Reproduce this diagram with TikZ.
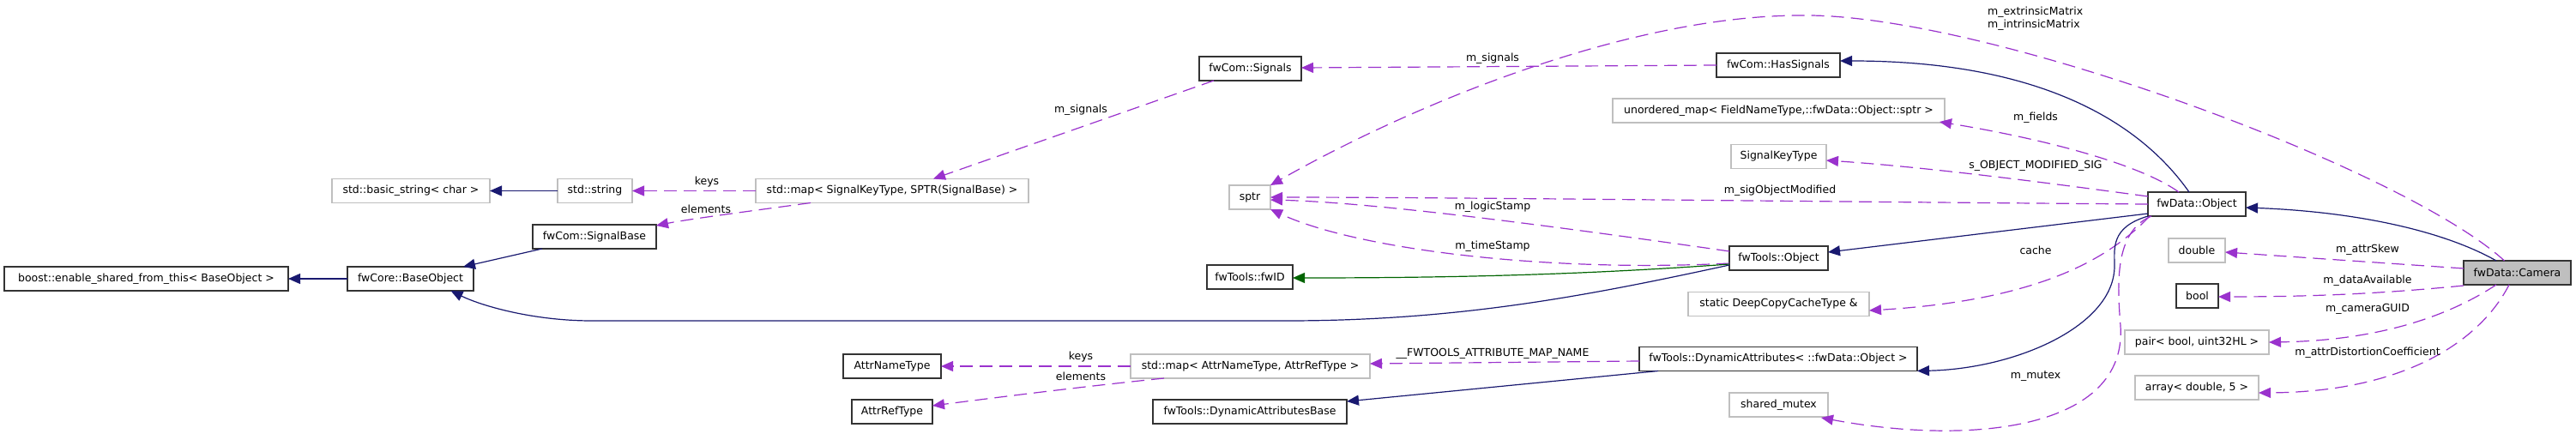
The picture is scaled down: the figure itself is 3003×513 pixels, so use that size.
\documentclass[tikz,border=0pt]{standalone}
\usepackage{fontspec}
\setmainfont{DejaVu Sans}
\usetikzlibrary{arrows.meta}
\definecolor{navy}{HTML}{191970}
\definecolor{orchid}{HTML}{9A32CD}
\definecolor{dgreen}{HTML}{006400}
\definecolor{gborder}{HTML}{BFBFBF}
\definecolor{camfill}{HTML}{BFBFBF}
\begin{document}
\begin{tikzpicture}[x=1pt,y=-1pt,
 every node/.style={font=\fontsize{12.5pt}{15pt}\selectfont},
 cls/.style={draw=black!80, line width=1.3pt, minimum height=28pt, inner sep=0pt, outer sep=0pt, fill=white},
 ext/.style={draw=gborder, line width=1.5pt, minimum height=28pt, inner sep=0pt, outer sep=0pt, fill=white},
 inh/.style={draw=navy, line width=1.2pt, -{Triangle[length=14pt,width=12pt,fill=navy]}},
 tplrel/.style={draw=dgreen, line width=1.2pt, -{Triangle[length=14pt,width=12pt,fill=dgreen]}},
 mem/.style={draw=orchid, line width=1.2pt, dash pattern=on 15pt off 8pt, -{Triangle[length=14pt,width=12pt,fill=orchid]}},
 lbl/.style={inner sep=0pt, text=black}]
\useasboundingbox (0,0) rectangle (3003,513);
\fill[white] (0,0) rectangle (3003,513);
% nodes
\node[ext, minimum width=184pt] (bstr) at (479,222.5) {std::basic\_string< char >};
\node[ext, minimum width=87pt] (sstr) at (693.5,222.5) {std::string};
\node[ext, minimum width=318pt] (smap) at (1040,222.5) {std::map< SignalKeyType, SPTR(SignalBase) >};
\node[cls, minimum width=119pt] (signals) at (1457.5,80) {fwCom::Signals};
\node[cls, minimum width=144pt] (hassig) at (2073,76) {fwCom::HasSignals};
\node[ext, minimum width=387pt] (umap) at (2073.5,129) {unordered\_map< FieldNameType,::fwData::Object::sptr >};
\node[ext, minimum width=111pt] (skt) at (2073.5,182.5) {SignalKeyType};
\node[ext, minimum width=48pt] (sptr) at (1457,230) {sptr};
\node[cls, minimum width=114pt] (dobj) at (2561,238) {fwData::Object};
\node[cls, minimum width=125pt, fill=camfill] (camera) at (2934.5,318) {fwData::Camera};
\node[ext, minimum width=66pt] (double) at (2561,292) {double};
\node[cls, minimum width=49pt] (bool) at (2561.5,345) {bool};
\node[ext, minimum width=168pt] (pair) at (2561,399) {pair< bool, uint32HL >};
\node[ext, minimum width=144pt] (array) at (2561,452) {array< double, 5 >};
\node[cls, minimum width=331pt] (boost) at (170.5,325) {boost::enable\_shared\_from\_this< BaseObject >};
\node[cls, minimum width=147pt] (baseobj) at (478.5,325) {fwCore::BaseObject};
\node[cls, minimum width=144pt] (sigbase) at (693,276) {fwCom::SignalBase};
\node[cls, minimum width=100pt] (fwid) at (1457,323) {fwTools::fwID};
\node[cls, minimum width=115pt] (tobj) at (2073.5,301) {fwTools::Object};
\node[ext, minimum width=211pt] (deep) at (2073.5,354.5) {static DeepCopyCacheType \&};
\node[cls, minimum width=114pt] (attrname) at (1040,427) {AttrNameType};
\node[cls, minimum width=94pt] (attrref) at (1040,480) {AttrRefType};
\node[ext, minimum width=279pt] (amap) at (1457.5,427) {std::map< AttrNameType, AttrRefType >};
\node[cls, minimum width=324pt] (dynattr) at (2073,418.5) {fwTools::DynamicAttributes< ::fwData::Object >};
\node[cls, minimum width=226pt] (dynbase) at (1457,480) {fwTools::DynamicAttributesBase};
\node[ext, minimum width=115pt] (smutex) at (2073.5,472) {shared\_mutex};
% edges
\draw[inh] (sstr.west) -- (bstr.east);
\draw[mem] (smap.west) -- (sstr.east);
\node[lbl] (lkeys1) at (824,212) {keys};
\draw[mem] ([xshift=64pt]smap.south west) .. controls (860,248) and (800,256) .. ([yshift=-1pt]sigbase.north east);
\node[lbl] (lelem1) at (823,244) {elements};
\draw[mem] ([xshift=17pt]signals.south west) -- ([xshift=207pt]smap.north west);
\node[lbl] (lsig1) at (1260,128) {m\_signals};
\draw[mem] (hassig.west) -- ([yshift=1pt]signals.east);
\node[lbl] (lsig2) at (1740,68) {m\_signals};
\draw[inh] ([xshift=48pt]dobj.north west) .. controls (2500,150) and (2390,71) .. ([yshift=5pt]hassig.east);
\draw[mem] ([xshift=-15pt]camera.north) .. controls (2800,195) and (2310,15) .. (2100,18) .. controls (1900,18) and (1650,120) .. (sptr.north east);
\node[lbl, align=left, anchor=west] (lmat) at (2317,22) {m\_extrinsicMatrix\\m\_intrinsicMatrix};
\draw[mem] ([xshift=36pt]dobj.north west) .. controls (2500,195) and (2400,165) .. ([xshift=-6pt,yshift=1pt]umap.south east);
\node[lbl] (lfields) at (2373,137) {m\_fields};
\draw[mem] ([yshift=9pt]dobj.west) .. controls (2400,215) and (2250,195) .. ([yshift=-4.5pt]skt.east);
\node[lbl] (lsmod) at (2373,193) {s\_OBJECT\_MODIFIED\_SIG};
\draw[mem] (dobj.west) .. controls (2200,236) and (1700,230) .. (sptr.east);
\node[lbl] (lsigmod) at (2075,222) {m\_sigObjectModified};
\draw[mem] ([yshift=8pt]tobj.west) .. controls (1800,262) and (1600,236) .. ([yshift=-3pt]sptr.east);
\node[lbl] (llogic) at (1740,241) {m\_logicStamp};
\draw[mem] ([yshift=-6pt]tobj.west) .. controls (1800,318) and (1580,290) .. (sptr.south east);
\node[lbl] (ltime) at (1740,287) {m\_timeStamp};
\draw[tplrel] ([yshift=-7pt]tobj.west) .. controls (1850,320) and (1700,324) .. ([yshift=-1pt]fwid.east);
\draw[inh] ([yshift=-8pt]tobj.west) .. controls (1850,345) and (1700,374) .. (1500,374) -- (690,374) .. controls (620,374) and (560,356) .. ([xshift=47pt]baseobj.south);
\draw[inh] ([yshift=-11pt]dobj.west) -- ([yshift=7pt]tobj.east);
\draw[mem] ([xshift=2pt]dobj.south west) .. controls (2460,300) and (2380,350) .. ([yshift=-7.5pt]deep.east);
\node[lbl] (lcache) at (2373,292) {cache};
\draw[inh] (dobj.south west) .. controls (2460,265) and (2465,290) .. (2465,310) .. controls (2465,380) and (2350,430) .. (dynattr.south east);
\draw[mem] ([xshift=4pt]dobj.south west) .. controls (2465,270) and (2468,330) .. (2472,380) .. controls (2480,500) and (2300,520) .. ([xshift=-8pt,yshift=-1pt]smutex.south east);
\node[lbl] (lmutex) at (2373,439) {m\_mutex};
\draw[mem] ([yshift=-2.5pt]dynattr.west) -- ([yshift=3pt]amap.east);
\node[lbl] (lfw) at (1740,412) {\_\_FWTOOLS\_ATTRIBUTE\_MAP\_NAME};
\draw[inh] ([xshift=22pt]dynattr.south west) -- ([yshift=-2pt]dynbase.north east);
\draw[mem] (amap.west) -- (attrname.east);
\node[lbl] (lkeys2) at (1260,416) {keys};
\draw[mem] ([xshift=39pt]amap.south west) .. controls (1250,452) and (1150,465) .. ([yshift=7pt]attrref.east);
\node[lbl] (lelem2) at (1260,439) {elements};
\draw[inh] (baseobj.west) -- (boost.east);
\draw[inh] ([xshift=11pt]sigbase.south west) -- ([xshift=-12pt]baseobj.north east);
\draw[inh] ([xshift=-24.5pt]camera.north) .. controls (2850,270) and (2750,247) .. ([yshift=-4pt]dobj.east);
\draw[mem] ([yshift=5pt]camera.west) -- ([yshift=-2pt]double.east);
\node[lbl] (lskew) at (2760,291) {m\_attrSkew};
\draw[mem] ([yshift=-15pt]camera.west) .. controls (2780,342) and (2700,346) .. ([yshift=-1pt]bool.east);
\node[lbl] (ldata) at (2760,327) {m\_dataAvailable};
\draw[mem] ([xshift=-24.5pt]camera.south) .. controls (2860,365) and (2780,397) .. (pair.east);
\node[lbl] (lguid) at (2760,360) {m\_cameraGUID};
\draw[mem] ([xshift=-9.5pt]camera.south) .. controls (2890,400) and (2800,457) .. ([yshift=-6pt]array.east);
\node[lbl] (ldist) at (2760,411) {m\_attrDistortionCoefficient};
\end{tikzpicture}
\end{document}
